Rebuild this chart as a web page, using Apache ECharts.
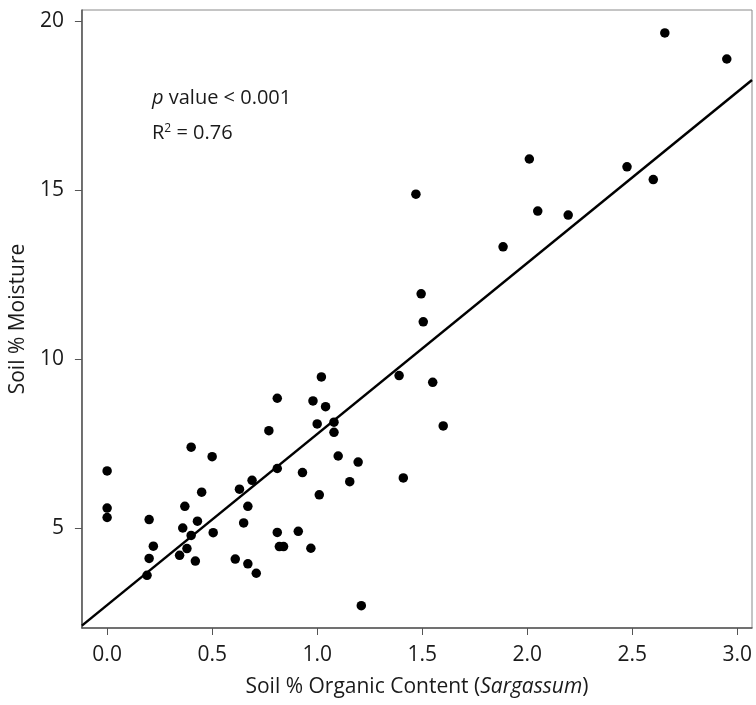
<!DOCTYPE html>
<html>
<head>
<meta charset="utf-8">
<script src="https://cdn.jsdelivr.net/npm/echarts@6/dist/echarts.min.js"></script>
<style>html,body{margin:0;padding:0;background:#fff;}#c{width:756px;height:705px;}</style>
</head>
<body>
<div id="c"></div>
<script>
// Soil % Organic Content (x) vs Soil % Moisture (y)
const organicContent = [
  0.00, 0.00, 0.00, 0.40, 0.50, 0.69, 0.63, 0.45, 0.67, 0.37,
  0.43, 0.65, 0.20, 0.36, 0.40, 0.505, 0.22, 0.38, 0.20, 0.345,
  0.42, 0.61, 0.67, 0.71, 0.19, 1.505, 1.39, 1.55, 1.02, 0.81,
  0.98, 1.04, 1.00, 1.08, 1.08, 1.60, 0.77, 1.10, 1.195, 0.81,
  0.93, 1.155, 1.41, 1.01, 0.81, 0.91, 0.82, 0.84, 0.97, 1.21,
  2.655, 2.95, 2.01, 2.475, 2.60, 1.47, 2.05, 2.195, 1.885, 1.495
];
const soilMoisture = [
  6.69, 5.59, 5.31, 7.39, 7.11, 6.41, 6.15, 6.06, 5.64, 5.64,
  5.20, 5.15, 5.25, 5.00, 4.78, 4.86, 4.46, 4.39, 4.10, 4.19,
  4.02, 4.08, 3.94, 3.66, 3.60, 11.10, 9.51, 9.31, 9.47, 8.84,
  8.76, 8.59, 8.08, 8.13, 7.83, 8.02, 7.88, 7.13, 6.95, 6.76,
  6.64, 6.37, 6.48, 5.98, 4.87, 4.90, 4.45, 4.45, 4.40, 2.70,
  19.65, 18.88, 15.92, 15.69, 15.31, 14.88, 14.38, 14.26, 13.32, 11.93
];
// regression line end points (as read at the plot edges)
const fitX = [-0.12, 3.07];
const fitY = [2.11, 18.26];
// axis ticks
const xTicks = [0, 0.5, 1.0, 1.5, 2.0, 2.5, 3.0];
const yTicks = [5, 10, 15, 20];

const FONT = 'Open Sans';
const points = organicContent.map((x, i) => [x, soilMoisture[i]]);
const fitLine = fitX.map((x, i) => [x, fitY[i]]);

const chart = echarts.init(document.getElementById('c'), null, {renderer: 'canvas'});
chart.setOption({
  animation: false,
  backgroundColor: '#ffffff',
  grid: {left: 81, right: 4, top: 10, bottom: 77, show: true, borderColor: '#8a8a8a', borderWidth: 1, backgroundColor: 'transparent'},
  xAxis: {
    type: 'value', min: -0.12, max: 3.07,
    axisLine: {show: true, onZero: false, lineStyle: {color: '#555', width: 1.5}},
    axisTick: {show: true, customValues: xTicks, length: 7, lineStyle: {color: '#555', width: 1}},
    axisLabel: {customValues: xTicks, formatter: v => v.toFixed(1), color: '#1a1a1a', fontSize: 21, fontFamily: FONT, margin: 17},
    splitLine: {show: false},
    name: 'Soil % Organic Content ({i|Sargassum})',
    nameLocation: 'middle', nameGap: 49,
    nameTextStyle: {color: '#1a1a1a', fontSize: 21, fontFamily: FONT,
      rich: {i: {fontStyle: 'italic', color: '#1a1a1a', fontSize: 21, fontFamily: FONT}}}
  },
  yAxis: {
    type: 'value', min: 2.04, max: 20.33,
    axisLine: {show: true, onZero: false, lineStyle: {color: '#555', width: 1.5}},
    axisTick: {show: true, customValues: yTicks, length: 7, lineStyle: {color: '#555', width: 1}},
    axisLabel: {customValues: yTicks, color: '#1a1a1a', fontSize: 21, fontFamily: FONT, margin: 18},
    splitLine: {show: false},
    name: 'Soil % Moisture',
    nameLocation: 'middle', nameGap: 46,
    nameTextStyle: {color: '#1a1a1a', fontSize: 21, fontFamily: FONT}
  },
  graphic: [
    {type: 'text', left: 152, top: 88, style: {
      text: '{i|p} value < 0.001',
      font: '20px "Open Sans"', fill: '#1a1a1a',
      rich: {i: {fontStyle: 'italic', fontSize: 20, fontFamily: FONT, fill: '#1a1a1a'}}
    }},
    {type: 'text', left: 152, top: 123, style: {
      text: 'R{s|2} = 0.76',
      font: '20px "Open Sans"', fill: '#1a1a1a',
      rich: {s: {fontSize: 12, fontFamily: FONT, verticalAlign: 'top', padding: [0, 0, 9, 0], fill: '#1a1a1a'}}
    }}
  ],
  series: [
    {type: 'line', data: fitLine, symbol: 'none', silent: true, z: 2,
      lineStyle: {color: '#000', width: 2.5}},
    {type: 'scatter', data: points, symbol: 'circle', symbolSize: 9.5, z: 3,
      itemStyle: {color: '#000', opacity: 1}}
  ]
});
</script>
</body>
</html>
